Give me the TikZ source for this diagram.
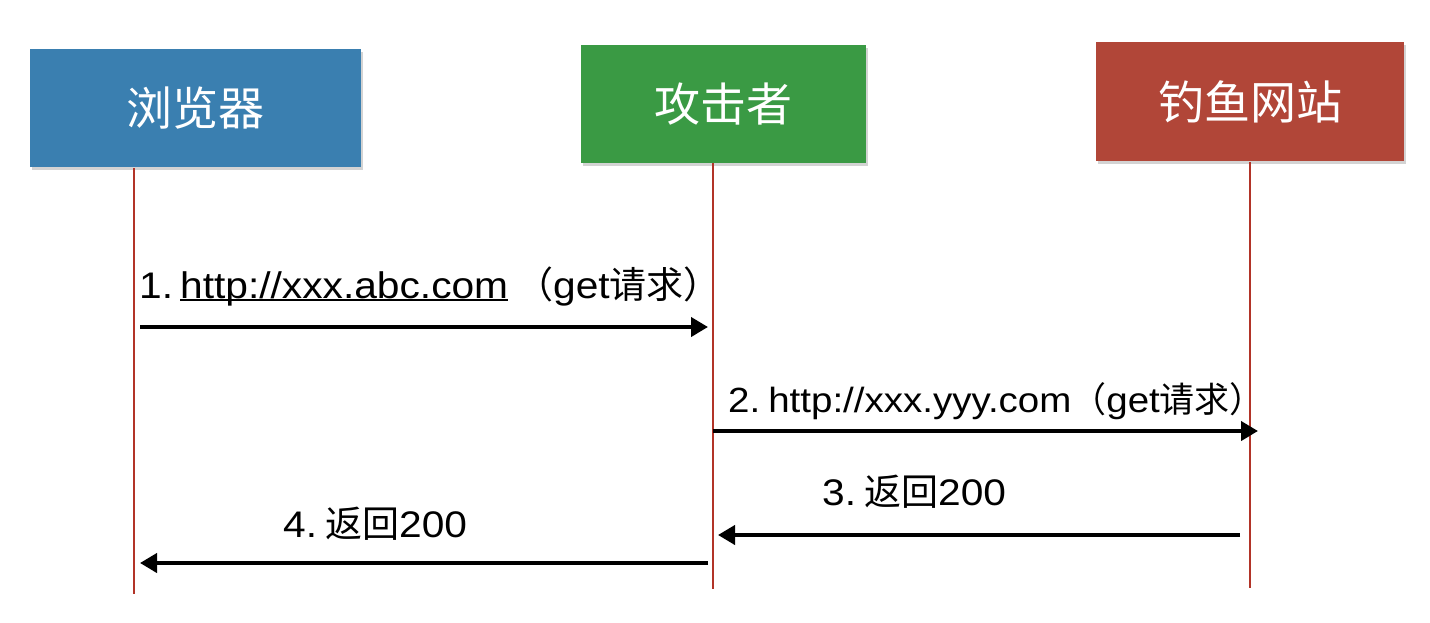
\documentclass[tikz,border=0pt]{standalone}
\usepackage{fontspec}
\setmainfont{Liberation Sans}
\newfontfamily\latinwide[FakeStretch=1.1]{Liberation Sans}
\newfontfamily\cjk{Noto Sans CJK SC}
\usetikzlibrary{arrows.meta,shadows}
\definecolor{boxblue}{RGB}{58,127,176}
\definecolor{boxgreen}{RGB}{58,154,68}
\definecolor{boxred}{RGB}{177,70,56}
\definecolor{lifered}{RGB}{178,52,40}
\newcommand\myul[1]{\setbox0\hbox{#1}\rlap{\rule[-3pt]{\wd0}{1.8pt}}\box0}
\tikzset{
  actor/.style={rectangle, inner sep=0pt, text=white, font=\cjk\fontsize{46}{50}\selectfont,
    drop shadow={opacity=0.35, shadow xshift=2pt, shadow yshift=-3pt}},
  life/.style={draw=lifered, line width=1.4pt},
  msg/.style={draw=black, line width=4pt, -{Triangle[length=17pt,width=19pt]}},
  msglabel/.style={anchor=base west, inner sep=0pt, font=\latinwide}
}
\begin{document}
\begin{tikzpicture}[x=1pt,y=-1pt]
\useasboundingbox (0,0) rectangle (1430,622);
% actors
\node[actor, fill=boxblue, minimum width=331pt, minimum height=118pt] (browser) at (195.5,108) {浏览器};
\node[actor, fill=boxgreen, minimum width=285pt, minimum height=118pt] (attacker) at (723.5,104) {攻击者};
\node[actor, fill=boxred, minimum width=308pt, minimum height=119pt] (phish) at (1250,101.5) {钓鱼网站};
% lifelines
\coordinate (bt) at (134,168); \coordinate (bb) at (134,594);
\coordinate (at) at (713,163); \coordinate (ab) at (713,589);
\coordinate (pt) at (1250,162); \coordinate (pb) at (1250,588);
\draw[life] (bt) -- (bb);
\draw[life] (at) -- (ab);
\draw[life] (pt) -- (pb);
% message end points
\coordinate (m1s) at (140,327); \coordinate (m1e) at (708,327);
\coordinate (m2s) at (713,431); \coordinate (m2e) at (1258,431);
\coordinate (m3s) at (1240,535); \coordinate (m3e) at (718,535);
\coordinate (m4s) at (708,563); \coordinate (m4e) at (140,563);
\draw[msg] (m1s) -- (m1e);
\draw[msg] (m2s) -- (m2e);
\draw[msg] (m3s) -- (m3e);
\draw[msg] (m4s) -- (m4e);
% labels
\node[msglabel] (l1) at (139,298) {\fontsize{37}{42}\selectfont 1.\kern7pt\myul{http://xxx.abc.com}\kern8pt{\cjk（}get{\cjk 请求）}};
\node[msglabel] (l2) at (728,412) {\fontsize{35}{40}\selectfont 2.\kern8pt http://xxx.yyy.com{\cjk（}get{\cjk 请求）}};
\node[msglabel] (l3) at (822,505) {\fontsize{37}{42}\selectfont 3.\kern8pt{\cjk 返回}200};
\node[msglabel] (l4) at (283,537) {\fontsize{37}{42}\selectfont 4.\kern8pt{\cjk 返回}200};
\end{tikzpicture}
\end{document}
